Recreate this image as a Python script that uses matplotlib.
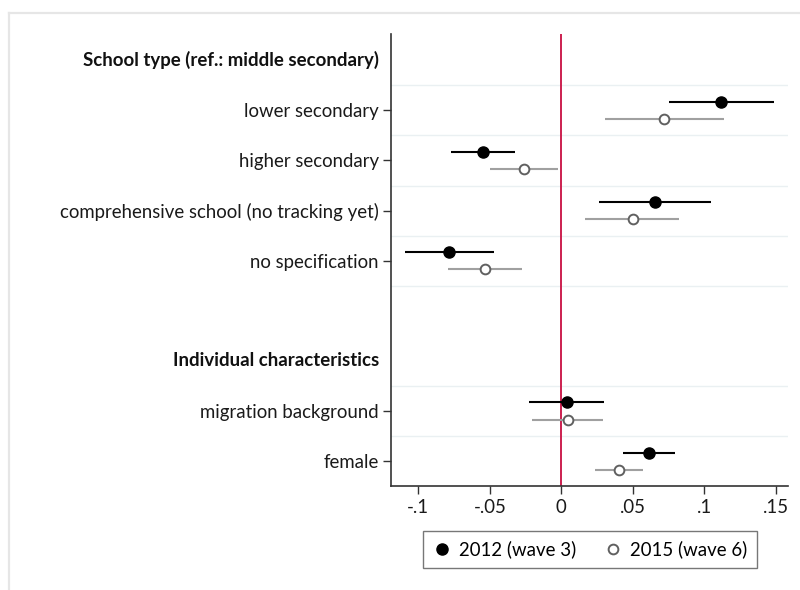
import matplotlib
matplotlib.use("Agg")
import matplotlib.pyplot as plt
from matplotlib.lines import Line2D
import numpy as np

plt.rcParams['font.family'] = ['Lato', 'DejaVu Sans']

# Row layout (top to bottom): headers, coefficients, blank spacer
row_labels = [
    "School type (ref.: middle secondary)",
    "lower secondary",
    "higher secondary",
    "comprehensive school (no tracking yet)",
    "no specification",
    "",
    "Individual characteristics",
    "migration background",
    "female",
]
header_rows = [0, 6]
coef_rows = [1, 2, 3, 4, 7, 8]
grid_rows = [0.5, 1.5, 2.5, 3.5, 4.5, 6.5, 7.5]

# 2012 (wave 3): estimates and 95% CI
est_2012 = [0.1115, -0.0550, 0.0656, -0.0787, 0.0037, 0.0613]
lo_2012 = [0.0750, -0.0770, 0.0265, -0.1096, -0.0228, 0.0430]
hi_2012 = [0.1490, -0.0326, 0.1050, -0.0473, 0.0297, 0.0795]

# 2015 (wave 6): estimates and 95% CI
est_2015 = [0.0717, -0.0263, 0.0498, -0.0533, 0.0044, 0.0403]
lo_2015 = [0.0307, -0.0498, 0.0168, -0.0791, -0.0207, 0.0237]
hi_2015 = [0.1136, -0.0023, 0.0826, -0.0277, 0.0290, 0.0574]

x_ticks = [-0.1, -0.05, 0, 0.05, 0.1, 0.15]
x_ticklabels = ["-.1", "-.05", "0", ".05", ".1", ".15"]

FS = 13.4

fig = plt.figure(figsize=(8, 5.9), dpi=100)
ax = fig.add_axes([0.489, 0.176, 0.496, 0.766])

# light outer frame
fig.add_artist(Line2D([0.011, 0.011], [0.0, 0.978], transform=fig.transFigure,
                      color='#e6e6e6', lw=1.6))
fig.add_artist(Line2D([0.011, 1.0], [0.978, 0.978], transform=fig.transFigure,
                      color='#e6e6e6', lw=1.6))

for g in grid_rows:
    ax.axhline(g, color='#eaf0f2', lw=1.0, zorder=0)

ax.axvline(0, color='#cc1f4f', lw=1.4, zorder=1)

off = 0.17
ypos = np.array(coef_rows, dtype=float)
ax.hlines(ypos - off, lo_2012, hi_2012, color='black', lw=1.5, zorder=2)
ax.plot(est_2012, ypos - off, 'o', color='black', ms=8, zorder=3)
ax.hlines(ypos + off, lo_2015, hi_2015, color='#a0a0a0', lw=1.5, zorder=2)
ax.plot(est_2015, ypos + off, 'o', mfc='white', mec='#606060', mew=1.4,
        ms=7, zorder=3)

ax.set_xlim(-0.119, 0.1585)
ax.set_ylim(8.5, -0.52)
ax.set_xticks(x_ticks)
ax.set_xticklabels(x_ticklabels, fontsize=FS, color='#1a1a1a')
ax.set_yticks(coef_rows)
ax.set_yticklabels([row_labels[r] for r in coef_rows], fontsize=FS,
                   color='#1a1a1a')
for r in header_rows:
    ax.text(-0.030, r, row_labels[r], transform=ax.get_yaxis_transform(),
            ha='right', va='center', fontsize=FS, fontweight='bold',
            color='#111111')

for s in ['top', 'right']:
    ax.spines[s].set_visible(False)
for s in ['left', 'bottom']:
    ax.spines[s].set_color('#333333')
    ax.spines[s].set_linewidth(1.2)
ax.tick_params(axis='both', length=6, width=1.0, color='#333333', pad=3)

handles = [
    Line2D([], [], marker='o', color='black', ls='none', ms=8),
    Line2D([], [], marker='o', mfc='white', mec='#606060', mew=1.4, ls='none', ms=7),
]
leg = fig.legend(handles, ["2012 (wave 3)", "2015 (wave 6)"], ncol=2,
                 loc='center', bbox_to_anchor=(0.7375, 0.0685),
                 frameon=True, fancybox=False, edgecolor='#555555',
                 fontsize=FS, handletextpad=0.45, columnspacing=1.45,
                 handlelength=1.0, borderpad=0.5)
leg.get_frame().set_linewidth(1.0)

fig.savefig("out.png", dpi=100, facecolor='white')
